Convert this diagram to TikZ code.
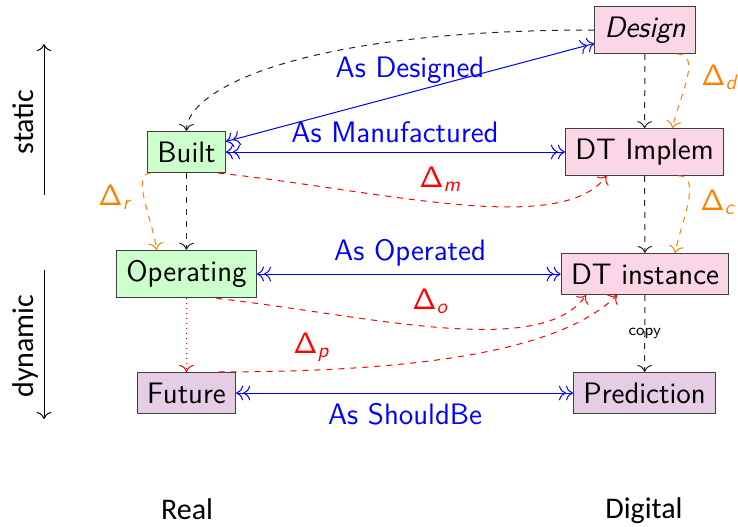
\documentclass[tikz,border=0pt]{standalone}
\usepackage{fontspec}
\usetikzlibrary{arrows.meta}
\newfontfamily\lblfont{Carlito}
\definecolor{boxgreen}{RGB}{204,255,204}
\definecolor{boxpink}{RGB}{250,214,230}
\definecolor{boxpurple}{RGB}{230,205,230}
\definecolor{dorange}{RGB}{255,128,0}
\newcommand{\dlt}[1]{Δ\textsubscript{\itshape #1}}
\newcommand{\bigsf}{\sffamily\fontsize{14.8}{18}\selectfont}
\begin{document}
\begin{tikzpicture}[x=0.5pt,y=-0.5pt, >={To[scale=1.3]},
  box/.style={draw=black!75, line width=0.5pt, font=\bigsf, inner xsep=4.9pt, inner ysep=5.1pt},
  realbox/.style={box, fill=boxgreen},
  digbox/.style={box, fill=boxpink},
  futbox/.style={box, fill=boxpurple},
  conn/.style={line width=0.5pt},
  flow/.style={conn, ->, dashed, black!85},
  link/.style={conn, <<->>, blue},
  bluelbl/.style={font=\bigsf, text=blue, inner sep=0pt, anchor=base},
  dlbl/.style={font=\bigsf, inner sep=0pt, anchor=base west},
  dev/.style={conn, ->, dashed, red},
  odev/.style={conn, ->, dashed, dorange},
  sidelbl/.style={font=\lblfont\fontsize{15}{18}\selectfont, inner sep=0pt, anchor=base},
]
\useasboundingbox (0,0) rectangle (738,526);
% nodes
\node[digbox] (Design) at (645,30) {\itshape Design};
\node[digbox] (DTImplem) at (644.5,152) {DT Implem};
\node[digbox] (DTinst) at (645,274) {DT instance};
\node[futbox] (Prediction) at (644.5,393) {Prediction};
\node[realbox] (Built) at (186.5,152) {Built};
\node[realbox] (Operating) at (186.5,274) {Operating};
\node[futbox] (Future) at (186.5,393) {Future};
% side labels
\node[sidelbl] (Real) at (187,519) {Real};
\node[sidelbl] (Digital) at (644,518) {Digital};
\node[sidelbl, rotate=90] (Static) at (33,122) {static};
\node[sidelbl, rotate=90] (Dynamic) at (33,346) {dynamic};
\coordinate (sA) at (44,195);
\coordinate (sB) at (44,44);
\coordinate (dA) at (44,270);
\coordinate (dB) at (44,419);
\draw[conn, ->] (sA) -- (sB);
\draw[conn, ->] (dA) -- (dB);
% black flows
\draw[flow] (Design.west) .. controls +(-300,0) and +(0,-40) .. (Built.north);
\draw[flow] (Design) -- (DTImplem);
\draw[flow] (DTImplem) -- (DTinst);
\draw[flow] (Built) -- (Operating);
\draw[flow] (DTinst) -- node[text=black, font=\sffamily\footnotesize, inner sep=1pt] (copy) {copy} (Prediction);
\draw[conn, red, dotted, ->] (Operating) -- (Future);
% blue links
\draw[link] (Built) -- (Design);
\draw[link] (Built) -- (DTImplem);
\draw[link] (Operating) -- (DTinst);
\draw[link] (Future) -- (Prediction);
\node[bluelbl] (lD) at (410,77) {As Designed};
\node[bluelbl] (lM) at (395,142) {As Manufactured};
\node[bluelbl] (lO) at (410,260) {As Operated};
\node[bluelbl] (lS) at (405,424) {As ShouldBe};
% orange deviations
\draw[odev] ([xshift=16pt]Design.south) .. controls +(26,0) and +(6,-30) .. ([xshift=14pt]DTImplem.north);
\draw[odev] ([xshift=17pt]DTImplem.south) .. controls +(24,0) and +(6,-30) .. ([xshift=15pt]DTinst.north);
\draw[odev] ([xshift=-18pt]Built.south) .. controls +(-20,0) and +(-4,-30) .. ([xshift=-15pt]Operating.north);
\node[dlbl, text=dorange] (dd) at (701,85) {\dlt{d}};
\node[dlbl, text=dorange] (dc) at (700,210) {\dlt{c}};
\node[dlbl, text=dorange] (dr) at (98,205) {\dlt{r}};
% red deviations
\draw[dev] ([xshift=16pt]Built.south) .. controls +(160,17) and +(-46,62) .. ([xshift=-19pt]DTImplem.south);
\draw[dev] ([xshift=15pt]Operating.south) .. controls +(150,17) and +(-45,65) .. ([xshift=-29.5pt]DTinst.south);
\draw[dev] ([xshift=16pt]Future.north) .. controls +(180,0) and +(-60,60) .. ([xshift=-14pt]DTinst.south);
\node[dlbl, text=red] (dm) at (419,187) {\dlt{m}};
\node[dlbl, text=red] (do) at (412,309) {\dlt{o}};
\node[dlbl, text=red] (dp) at (293,353) {\dlt{p}};
\end{tikzpicture}
\end{document}
